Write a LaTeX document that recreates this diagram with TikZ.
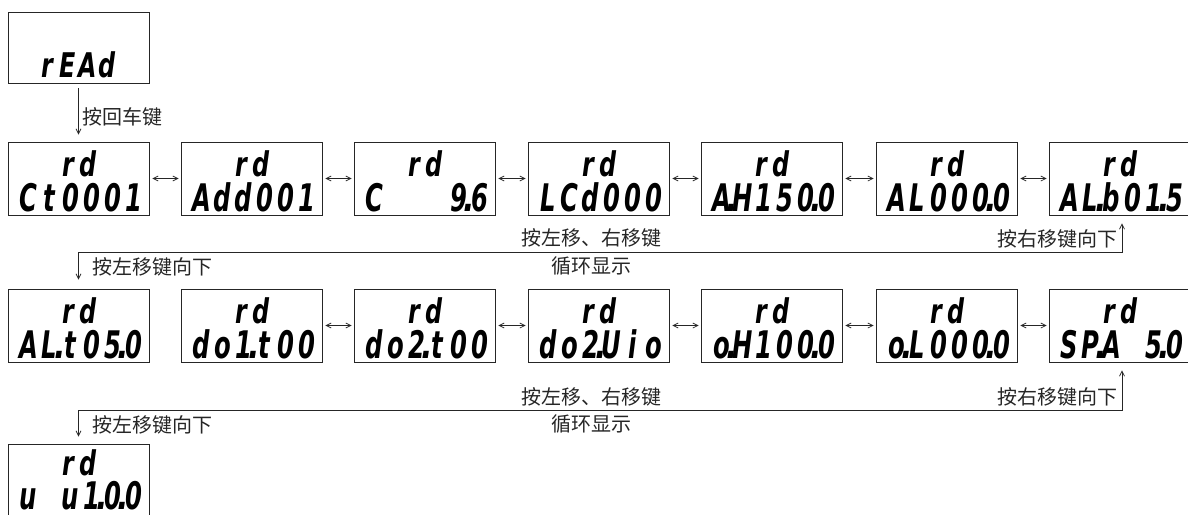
\documentclass[tikz,border=0pt]{standalone}
\usepackage{fontspec}
\usepackage{graphicx}
\usetikzlibrary{arrows.meta}
\newfontfamily\cjk{Noto Sans CJK SC}
\newfontfamily\segf{DejaVu Sans}
\newcommand\sgc[1]{\makebox[21pt]{\scalebox{0.64}[1]{#1}}}
\newcommand\sgd[1]{\makebox[21pt]{\scalebox{0.64}[1]{#1}}\makebox[0pt]{\scalebox{0.8}[1]{.}}}
\newcommand\sgb{\makebox[21pt]{}}
\newcommand\sgt[1]{\makebox[20pt]{\scalebox{0.7}[1]{#1}}}
\tikzset{
  dbox/.style={draw=black!85, line width=0.9pt, minimum width=141pt, minimum height=73pt, inner sep=0pt},
  segbig/.style={font=\segf\bfseries\itshape\fontsize{38}{38}\selectfont, inner sep=0pt, anchor=base},
  segsm/.style={font=\segf\bfseries\itshape\fontsize{34}{34}\selectfont, inner sep=0pt, anchor=base},
  lab/.style={font=\cjk\fontsize{20}{20}\selectfont, inner sep=0pt, text=black!85},
  conn/.style={line width=0.7pt, draw=black!85},
  arr/.style={conn, -{Straight Barb[length=5pt,width=5pt]}},
  darr/.style={conn, {Straight Barb[length=5pt,width=5pt]}-{Straight Barb[length=5pt,width=5pt]}}
}
\newcommand\disp[6][70]{%
  \node[dbox] (#3) at (#4,#5) {};
  \node[segsm] (#3t) at ([yshift=-#2pt]#3.north) {\sgt{r}\sgt{d}};
  \node[segbig] (#3b) at ([xshift=2.5pt,yshift=-#1pt]#3.north) {#6};}
\begin{document}
\begin{tikzpicture}[x=1pt,y=-1pt]
\useasboundingbox (0,0) rectangle (1188,514);
\clip (0,0) rectangle (1188,514);
% top box
\node[dbox, minimum height=71pt] (r0) at (78.5,47.5) {};
\node[segsm] (r0t) at ([xshift=-1pt,yshift=-66pt]r0.north) {\sgt{r}\sgt{E}\sgt{A}\sgt{d}};
% row 1
\disp{35}{a1}{78.5}{178.5}{\sgc{C}\sgc{t}\sgc{0}\sgc{0}\sgc{0}\sgc{1}}
\disp{35}{a2}{251.5}{178.5}{\sgc{A}\sgc{d}\sgc{d}\sgc{0}\sgc{0}\sgc{1}}
\disp{35}{a3}{424.5}{178.5}{\sgc{C}\sgb\sgb\sgb\sgd{9}\sgc{6}}
\disp{35}{a4}{598.5}{178.5}{\sgc{L}\sgc{C}\sgc{d}\sgc{0}\sgc{0}\sgc{0}}
\disp{35}{a5}{771.5}{178.5}{\sgd{A}\sgc{H}\sgc{1}\sgc{5}\sgd{0}\sgc{0}}
\disp{35}{a6}{946.5}{178.5}{\sgc{A}\sgc{L}\sgc{0}\sgc{0}\sgd{0}\sgc{0}}
\disp{35}{a7}{1119.5}{178.5}{\sgc{A}\sgd{L}\sgc{b}\sgc{0}\sgd{1}\sgc{5}}
% row 2
\disp{35}{b1}{78.5}{325.5}{\sgc{A}\sgd{L}\sgc{t}\sgc{0}\sgd{5}\sgc{0}}
\disp{35}{b2}{251.5}{325.5}{\sgc{d}\sgc{o}\sgd{1}\sgc{t}\sgc{0}\sgc{0}}
\disp{35}{b3}{424.5}{325.5}{\sgc{d}\sgc{o}\sgd{2}\sgc{t}\sgc{0}\sgc{0}}
\disp{35}{b4}{598.5}{325.5}{\sgc{d}\sgc{o}\sgd{2}\sgc{U}\sgc{i}\sgc{o}}
\disp{35}{b5}{771.5}{325.5}{\sgd{o}\sgc{H}\sgc{1}\sgc{0}\sgd{0}\sgc{0}}
\disp{35}{b6}{946.5}{325.5}{\sgd{o}\sgc{L}\sgc{0}\sgc{0}\sgd{0}\sgc{0}}
\disp{35}{b7}{1119.5}{325.5}{\sgc{S}\sgd{P}\sgc{A}\sgb\sgd{5}\sgc{0}}
% row 3
\disp[66]{32}{c1}{78.5}{480.5}{\sgc{u}\sgb\sgc{u}\sgd{1}\sgd{0}\sgc{0}}
% enter arrow
\draw[arr] ([yshift=-5pt]r0.south) -- ([yshift=7pt]a1.north);
\node[lab, anchor=west] (l0) at (82,117) {按回车键};
% row 1 horizontal arrows
\foreach \p/\q in {a1/a2,a2/a3,a3/a4,a4/a5,a5/a6,a6/a7}
  \draw[darr] ([xshift=3pt]\p.east) -- ([xshift=-2pt]\q.west);
% row 2 horizontal arrows
\foreach \p/\q in {b2/b3,b3/b4,b4/b5,b5/b6,b6/b7}
  \draw[darr] ([xshift=3pt]\p.east) -- ([xshift=-2pt]\q.west);
% row 1 -> row 2 loop
\coordinate (l1) at (78.5,252);
\coordinate (r1) at (1122,252);
\draw[darr] ([yshift=9pt]b1.north) -- (l1) -- (r1) -- ([xshift=2.5pt,yshift=-8pt]a7.south);
\node[lab] (t1a) at (591,238) {按左移、右移键};
\node[lab] (t1b) at (591,266) {循环显示};
\node[lab, anchor=east] (t1r) at (1118,239) {按右移键向下};
\node[lab, anchor=west] (t1l) at (92,267) {按左移键向下};
% row 2 -> row 3 loop
\coordinate (l2) at (78.5,410);
\coordinate (r2) at (1122,410);
\draw[darr] ([yshift=7pt]c1.north) -- (l2) -- (r2) -- ([xshift=2.5pt,yshift=-8pt]b7.south);
\node[lab] (t2a) at (591,396.5) {按左移、右移键};
\node[lab] (t2b) at (591,424) {循环显示};
\node[lab, anchor=east] (t2r) at (1118,397) {按右移键向下};
\node[lab, anchor=west] (t2l) at (92,425) {按左移键向下};
\end{tikzpicture}
\end{document}
